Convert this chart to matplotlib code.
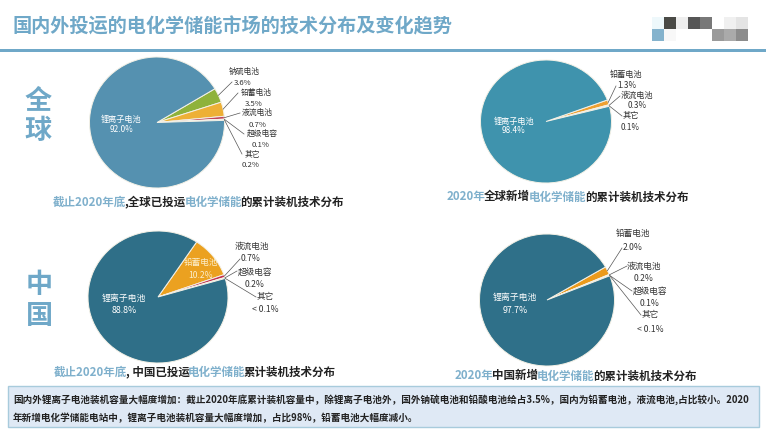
import numpy as np
import matplotlib
matplotlib.use("Agg")
import matplotlib.pyplot as plt
from matplotlib.patches import Rectangle
from matplotlib.colors import to_rgb

plt.rcParams['font.family'] = ['Noto Sans CJK SC', 'DejaVu Sans']

W, H = 766, 431
BLUE = "#6fa8c8"
CAP_BLUE = "#7fb0cc"
DARK = "#222222"

# -- DATA ---------------------------------------------------------------------
global_total_names = ["钠硫电池", "铅蓄电池", "液流电池", "超级电容", "其它", "锂离子电池"]
global_total_values = [3.6, 3.5, 0.7, 0.1, 0.2, 92.0]
global_total_labels = ["3.6%", "3.5%", "0.7%", "0.1%", "0.2%", "92.0%"]

global_new_names = ["铅蓄电池", "液流电池", "其它", "锂离子电池"]
global_new_values = [1.3, 0.3, 0.1, 98.4]
global_new_labels = ["1.3%", "0.3%", "0.1%", "98.4%"]

china_total_names = ["铅蓄电池", "液流电池", "超级电容", "其它", "锂离子电池"]
china_total_values = [10.2, 0.7, 0.2, 0.05, 88.8]
china_total_labels = ["10.2%", "0.7%", "0.2%", "< 0.1%", "88.8%"]

china_new_names = ["铅蓄电池", "液流电池", "超级电容", "其它", "锂离子电池"]
china_new_values = [2.0, 0.2, 0.1, 0.05, 97.7]
china_new_labels = ["2.0%", "0.2%", "0.1%", "< 0.1%", "97.7%"]

# blurred logo cells
logo_row1 = ["#eef8fb", "#4a4a46", "#eeeeee", "#565656", "#787878", "#ffffff", "#f0f0f0", "#e4e4e4"]
logo_row2 = ["#85b3cd", "#f8f8f8", "#ffffff", "#ffffff", "#ffffff", "#9a9a9a", "#aaaaaa", "#8c8c8c"]

fig = plt.figure(figsize=(W / 100, H / 100), dpi=100, facecolor="white")


# -- FUNCTIONS ----------------------------------------------------------------
def draw_pie(values, colors, start, cx, cy, rx, ry):
    ax = fig.add_axes([(cx - rx) / W, 1 - (cy + ry) / H, 2 * rx / W, 2 * ry / H])
    wedges, _ = ax.pie(values, colors=colors, startangle=start, counterclock=False, radius=1,
                       wedgeprops=dict(edgecolor="#f4f1e6", linewidth=0.7))
    ax.set_aspect("auto")
    ax.set_xlim(-1, 1)
    ax.set_ylim(-1, 1)
    # edge point of each slice, in pixels, for the leader lines
    edges = []
    for w in wedges:
        mid = np.deg2rad((w.theta1 + w.theta2) / 2)
        edges.append((cx + rx * np.cos(mid), cy - ry * np.sin(mid)))
    return edges


def label_slices(names, labels, edges, spots, size=5.9):
    # spots: name x, name y, pct x, pct y, leader end x, leader end y
    for name, pct, edge, s in zip(names, labels, edges, spots):
        over.text(s[0], s[1], name, fontsize=size, ha="center", va="center", color="#333333")
        over.text(s[2], s[3], pct, fontsize=size, ha="center", va="center", color="#333333")
        over.plot([edge[0], s[4]], [edge[1], s[5]], color="#555555", lw=0.5)


def inner_label(x, y1, y2, name, pct, size=6.2, color="white"):
    over.text(x, y1, name, fontsize=size, ha="center", va="center", color=color)
    over.text(x, y2, pct, fontsize=size, ha="center", va="center", color=color)


def run_text(x, y, parts, size):
    # several colours on one line, one run after the other
    rend = fig.canvas.get_renderer()
    for txt, col in parts:
        t = over.text(x, y, txt, fontsize=size, fontweight="bold", color=col, ha="left", va="center")
        x = t.get_window_extent(rend).x1 - 1.5


# -- PIES ---------------------------------------------------------------------
edges1 = draw_pie(global_total_values,
                  ["#8fb23b", "#edb036", "#c0455a", "#e8e2d0", "#e8e2d0", "#5591b0"],
                  31, 157, 123.5, 67.5, 65.5)
edges2 = draw_pie(global_new_values,
                  ["#eea030", "#e9d9b0", "#e8e2d0", "#3f93ad"],
                  20.5, 546, 122.5, 65.5, 61.5)
edges3 = draw_pie(china_total_values,
                  ["#eba120", "#c23050", "#e8e2d0", "#e8e2d0", "#2f6f88"],
                  56.5, 158, 298, 70, 66)
edges4 = draw_pie(china_new_values,
                  ["#eb9a1c", "#e9d9b0", "#e8e2d0", "#e8e2d0", "#2f7089"],
                  30, 547, 301, 67.5, 66)

# overlay in pixel coordinates, drawn on top of the pies
over = fig.add_axes([0, 0, 1, 1], facecolor="none")
over.axis("off")

# -- HEADER -------------------------------------------------------------------
over.text(12, 27, "国内外投运的电化学储能市场的技术分布及变化趋势", fontsize=13.8, fontweight="bold",
          color=BLUE, ha="left", va="center")
over.add_patch(Rectangle((0, 49.5), W, 3.5, facecolor=BLUE, edgecolor="none"))
logo = np.array([[to_rgb(c) for c in logo_row1], [to_rgb(c) for c in logo_row2]])
over.imshow(logo, extent=(652, 748, 42, 18), interpolation="nearest", aspect="auto", zorder=2)
over.set_xlim(0, W)
over.set_ylim(H, 0)

for txt, x, y in [("全", 38, 100), ("球", 38, 131), ("中", 39, 285), ("国", 39, 316)]:
    over.text(x, y, txt, fontsize=19.5, fontweight="bold", color=BLUE, ha="center", va="center")

# -- SLICE LABELS -------------------------------------------------------------
label_slices(global_total_names[:-1], global_total_labels[:-1], edges1[:-1], [
    (244, 72, 243, 83, 232, 83),
    (256, 93, 254, 104, 238, 94),
    (257, 113, 258, 125, 240, 114),
    (262, 134, 261, 145, 244, 135),
    (252, 155, 251, 165, 242, 155),
], 5.6)
inner_label(121, 119, 130, global_total_names[-1], global_total_labels[-1], 5.9)

label_slices(global_new_names[:-1], global_new_labels[:-1], edges2[:-1], [
    (626, 74, 627, 85, 616, 87),
    (637, 95, 637, 106, 620, 97),
    (631, 116, 630, 128, 622, 117),
], 5.9)
inner_label(514, 121, 131, global_new_names[-1], global_new_labels[-1], 5.9)

label_slices(china_total_names[1:-1], china_total_labels[1:-1], edges3[1:-1], [
    (252, 246, 251, 259, 240, 260),
    (255, 272, 255, 285, 237, 272),
    (265, 297, 265, 310, 256, 298),
], 6.2)
inner_label(124, 298, 311, china_total_names[-1], china_total_labels[-1], 6.4)
inner_label(201, 263, 276, china_total_names[0], china_total_labels[0], 6.2, "#fbeecb")

label_slices(china_new_names[:-1], china_new_labels[:-1], edges4[:-1], [
    (633, 234, 633, 248, 622, 249),
    (644, 266, 644, 279, 627, 267),
    (650, 291, 650, 304, 632, 292),
    (650, 315, 650, 330, 641, 316),
], 6.2)
inner_label(515, 297, 311, china_new_names[-1], china_new_labels[-1], 6.4)

# -- CAPTIONS -----------------------------------------------------------------
run_text(53, 202, [("截止2020年底", CAP_BLUE), (",全球已投运", DARK), ("电化学储能", CAP_BLUE), ("的累计装机技术分布", DARK)], 8.3)
run_text(447, 197, [("2020年", CAP_BLUE), ("全球新增", DARK), ("电化学储能", CAP_BLUE), ("的累计装机技术分布", DARK)], 8.3)
run_text(54, 372, [("截止2020年底", CAP_BLUE), (", 中国已投运", DARK), ("电化学储能", CAP_BLUE), ("累计装机技术分布", DARK)], 8.3)
run_text(455, 376, [("2020年", CAP_BLUE), ("中国新增", DARK), ("电化学储能", CAP_BLUE), ("的累计装机技术分布", DARK)], 8.3)

# -- NOTE BOX -----------------------------------------------------------------
over.add_patch(Rectangle((8, 387), 751, 41, facecolor="#dfe9f5", edgecolor="#a8cbdc", lw=1))
over.text(13, 400, "国内外锂离子电池装机容量大幅度增加：截止2020年底累计装机容量中，除锂离子电池外，国外钠硫电池和铅酸电池给占3.5%，国内为铅蓄电池，液流电池,占比较小。2020",
          fontsize=6.9, fontweight="bold", color=DARK, ha="left", va="center")
over.text(13, 418, "年新增电化学储能电站中，锂离子电池装机容量大幅度增加，占比98%，铅蓄电池大幅度减小。",
          fontsize=6.9, fontweight="bold", color=DARK, ha="left", va="center")

fig.savefig("out.png", dpi=100)
